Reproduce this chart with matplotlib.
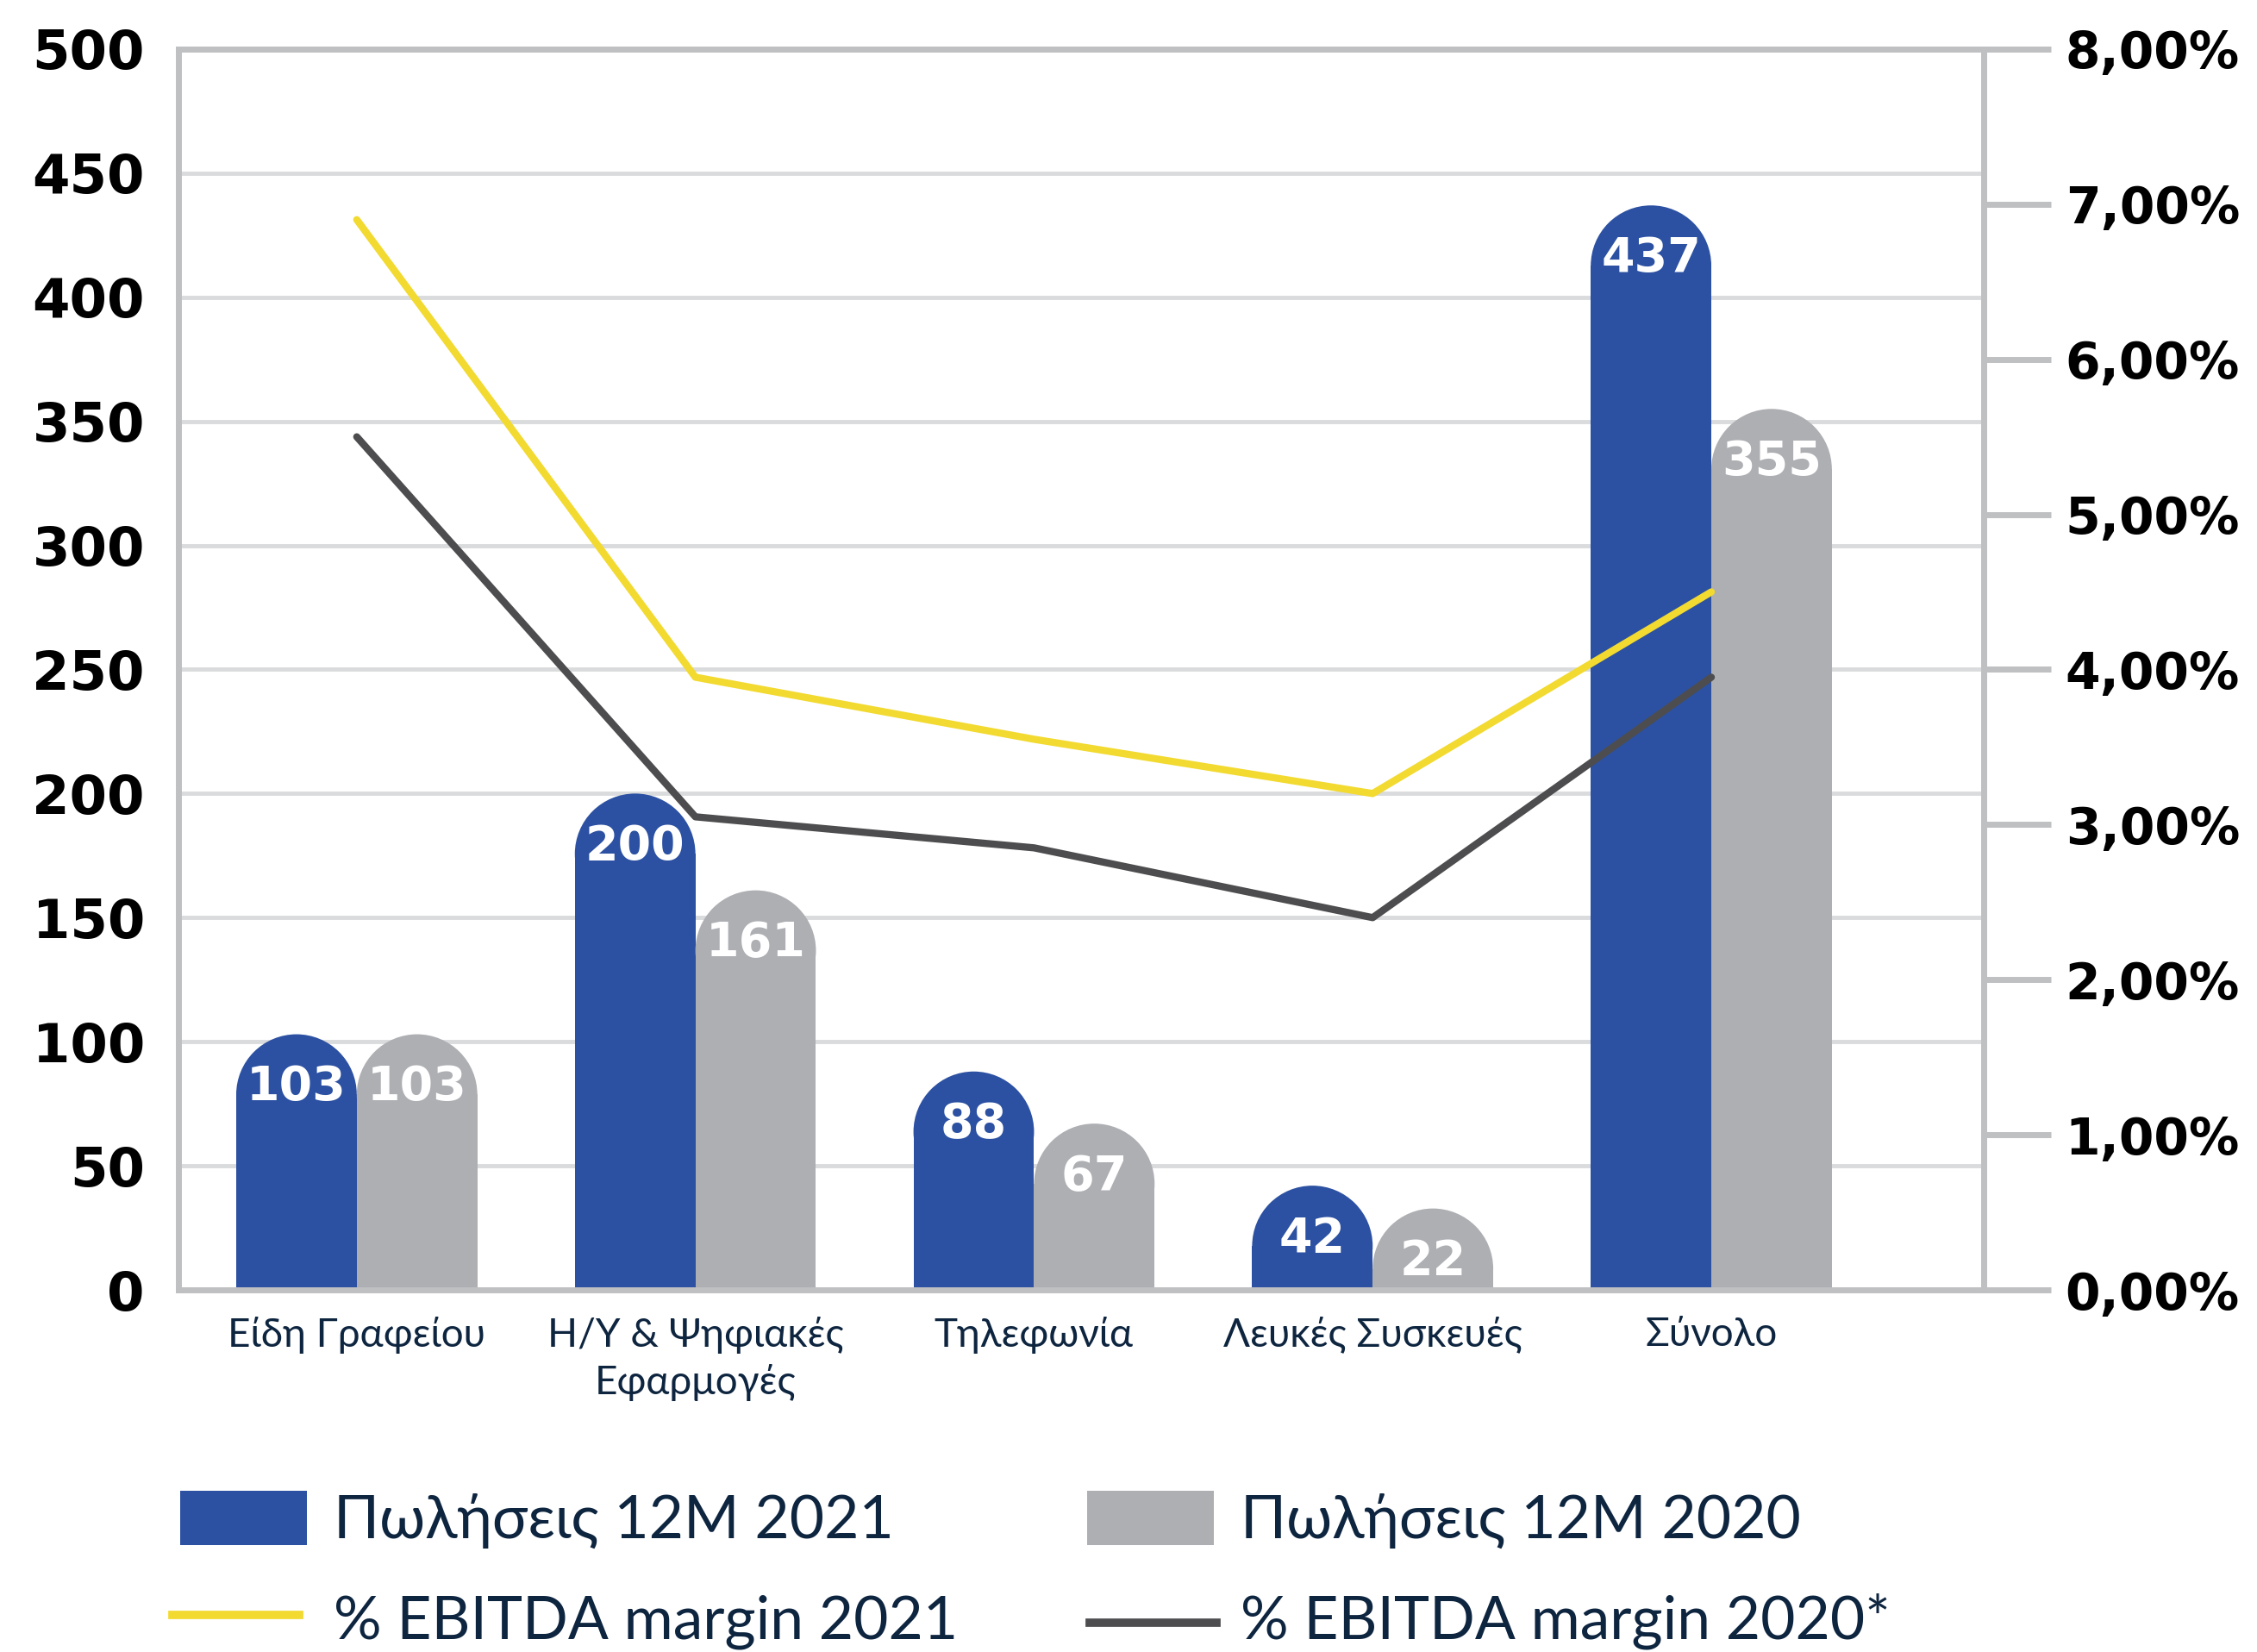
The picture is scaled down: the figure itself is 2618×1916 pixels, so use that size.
import numpy as np
import matplotlib.pyplot as plt
from matplotlib.patches import Rectangle, Ellipse
from matplotlib.lines import Line2D

plt.rcParams['font.family'] = ['Lato', 'DejaVu Sans']

categories = ['Είδη Γραφείου', 'Η/Υ & Ψηφιακές\nΕφαρμογές', 'Τηλεφωνία',
              'Λευκές Συσκευές', 'Σύνολο']
sales_2021 = [103, 200, 88, 42, 437]
sales_2020 = [103, 161, 67, 22, 355]
margin_2021 = [6.9, 3.95, 3.55, 3.2, 4.5]
margin_2020 = [5.5, 3.05, 2.85, 2.4, 3.95]
left_ticks = [0, 50, 100, 150, 200, 250, 300, 350, 400, 450, 500]
right_ticks = [0, 1, 2, 3, 4, 5, 6, 7, 8]
right_labels = ['0,00%', '1,00%', '2,00%', '3,00%', '4,00%', '5,00%',
                '6,00%', '7,00%', '8,00%']
legend_labels = ['Πωλήσεις 12M 2021', 'Πωλήσεις 12M 2020',
                 '% EBITDA margin 2021', '% EBITDA margin 2020*']

blue = '#2C51A2'
grey = '#AEAFB3'
yellow = '#F2DA30'
dark = '#4D4D4F'
navy = '#0E2540'
axis_grey = '#BFC0C2'
grid_grey = '#DADBDC'
num_font = 'DejaVu Sans'

fig = plt.figure(figsize=(26.18, 19.16), dpi=100)
ax = fig.add_axes([0.079, 0.2192, 0.8, 0.7511])
x = np.arange(len(categories))
ax.set_xlim(-0.527, 4.805)
ax.set_ylim(0, 500)
w = 0.356

# cap radius in y units so the top looks like a half circle
p0 = ax.transData.transform((0, 0))
px_x = ax.transData.transform((1, 0))[0] - p0[0]
px_y = ax.transData.transform((0, 1))[1] - p0[1]
ry = (w / 2) * px_x / px_y


def rounded_bar(xc, val, color):
    body = max(val - ry, ry * 0.35)
    ax.add_patch(Rectangle((xc - w / 2, 0), w, body, facecolor=color, lw=0, zorder=2))
    ax.add_patch(Ellipse((xc, body), w, 2 * ry, facecolor=color, lw=0, zorder=2))
    ax.text(xc, body + ry * 0.12, str(val), ha='center', va='center',
            color='white', fontsize=40, fontweight='bold', family=num_font, zorder=4)


for i in range(len(categories)):
    rounded_bar(x[i] - w / 2, sales_2021[i], blue)
    rounded_bar(x[i] + w / 2, sales_2020[i], grey)

ax.set_yticks(left_ticks)
ax.set_yticklabels([str(t) for t in left_ticks], fontsize=45, fontweight='bold',
                   family=num_font)
ax.yaxis.grid(True, color=grid_grey, lw=3.5)
ax.set_axisbelow(True)
ax.tick_params(axis='y', length=0, pad=28)
ax.set_xticks(x)
ax.set_xticklabels(categories, fontsize=33, color=navy, linespacing=1.35)
ax.tick_params(axis='x', length=0, pad=22)
for s in ax.spines.values():
    s.set_color(axis_grey)
    s.set_linewidth(5)

ax2 = ax.twinx()
ax2.set_ylim(0, 8)
ax2.set_yticks(right_ticks)
ax2.set_yticklabels(right_labels, fontsize=42, fontweight='bold', family=num_font)
ax2.tick_params(axis='y', length=56, width=5, color=axis_grey, pad=12)
for k in ['left', 'top', 'bottom']:
    ax2.spines[k].set_visible(False)
ax2.spines['right'].set_color(axis_grey)
ax2.spines['right'].set_linewidth(5)

ax2.plot(x, margin_2021, color=yellow, lw=6, solid_capstyle='round', zorder=5)
ax2.plot(x, margin_2020, color=dark, lw=6, solid_capstyle='round', zorder=5)

# legend
fig.patches.append(Rectangle((0.0798, 0.0647), 0.0562, 0.0329, facecolor=blue,
                             transform=fig.transFigure, figure=fig))
fig.patches.append(Rectangle((0.4817, 0.0647), 0.0562, 0.0329, facecolor=grey,
                             transform=fig.transFigure, figure=fig))
fig.lines.append(Line2D([0.0764, 0.1325], [0.0225, 0.0225], color=yellow, lw=7,
                        transform=fig.transFigure, figure=fig))
fig.lines.append(Line2D([0.4828, 0.539], [0.0175, 0.0175], color=dark, lw=7,
                        transform=fig.transFigure, figure=fig))
fig.text(0.1478, 0.0689, legend_labels[0], fontsize=50, color=navy)
fig.text(0.5497, 0.0689, legend_labels[1], fontsize=50, color=navy)
fig.text(0.1478, 0.008, legend_labels[2], fontsize=50, color=navy)
fig.text(0.5497, 0.008, legend_labels[3], fontsize=50, color=navy)

fig.savefig('out.png', dpi=100)
